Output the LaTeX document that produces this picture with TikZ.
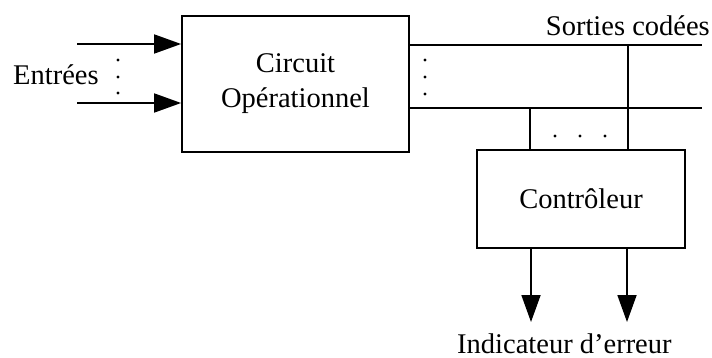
\documentclass[tikz,border=0pt]{standalone}
\usepackage{fontspec}
\setmainfont{Liberation Serif}
\usetikzlibrary{arrows.meta}
\tikzset{
  block/.style={draw, line width=1.8pt, inner sep=0pt, align=center,
    font=\fontsize{28.5}{35}\selectfont},
  wire/.style={line width=1.8pt},
  sig/.style={line width=1.8pt, -{Triangle[length=27pt,width=19pt]}},
  lbl/.style={font=\fontsize{28.5}{35}\selectfont, inner sep=0pt},
}
\begin{document}
\begin{tikzpicture}[x=1pt,y=-1pt]
    \useasboundingbox (0,0) rectangle (712,358);

    % Operational circuit
    \node[block, minimum width=227pt, minimum height=136pt] (circ) at (295.5,84)
        {Circuit\\Opérationnel};

    % Controller
    \node[block, minimum width=208pt, minimum height=98pt] (ctrl) at (581,199)
        {Contrôleur};

    % Inputs
    \coordinate (in1) at (77,44);
    \coordinate (in2) at (77,103);
    \draw[sig] (in1) -- (in1 -| circ.west);
    \draw[sig] (in2) -- (in2 -| circ.west);
    \node[lbl, anchor=base west] (inlbl) at (13,85) {Entrées};
    \foreach \y in {60,77,93} \fill (118,\y) circle (1.7pt);

    % Coded outputs
    \coordinate (out1) at (702,45);
    \coordinate (out2) at (702,108);
    \draw[wire] (out1 -| circ.east) -- (out1);
    \draw[wire] (out2 -| circ.east) -- (out2);
    \node[lbl, anchor=base east] (outlbl) at (710,36) {Sorties codées};
    \foreach \y in {60,77,94} \fill (425,\y) circle (1.7pt);

    % Taps to the controller
    \coordinate (tap1) at (628,45);
    \coordinate (tap2) at (530,108);
    \draw[wire] (tap1) -- (tap1 |- ctrl.north);
    \draw[wire] (tap2) -- (tap2 |- ctrl.north);
    \foreach \x in {555,580,605} \fill (\x,136) circle (1.7pt);

    % Error indicator
    \coordinate (err1) at (531,322);
    \coordinate (err2) at (627,322);
    \draw[sig] (err1 |- ctrl.south) -- (err1);
    \draw[sig] (err2 |- ctrl.south) -- (err2);
    \node[lbl, anchor=base west] (errlbl) at (457,353) {Indicateur d’erreur};
\end{tikzpicture}
\end{document}
